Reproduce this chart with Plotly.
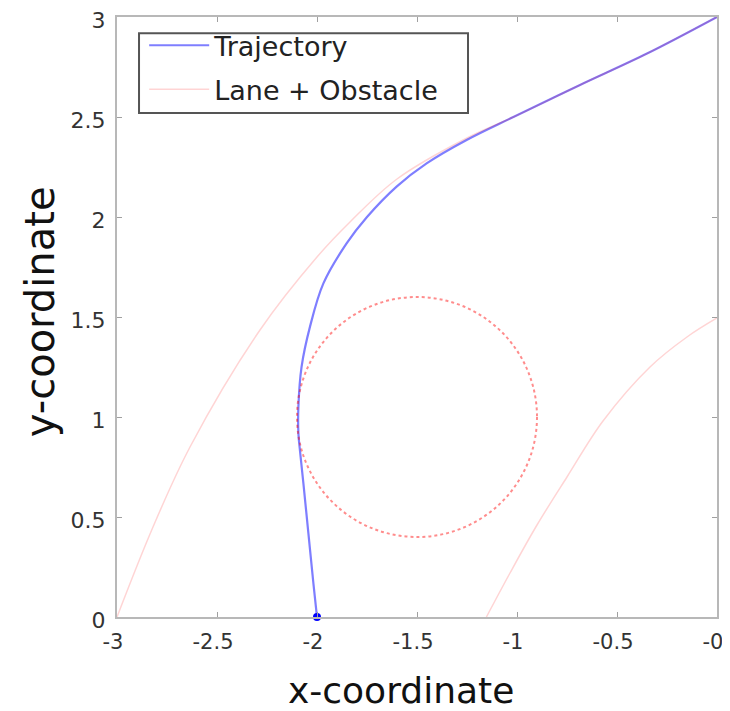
import plotly.graph_objects as go

# Trajectory (blue)
traj_x = [-2.0, -2.018, -2.043, -2.068, -2.085, -2.093, -2.093, -2.077, -2.035, -1.968,
          -1.852, -1.75, -1.602, -1.452, -1.252, -1.018, -0.685, -0.35, 0.0]
traj_y = [0.0, 0.168, 0.418, 0.668, 0.83, 0.918, 1.052, 1.252, 1.452, 1.668,
          1.868, 2.0, 2.152, 2.268, 2.385, 2.50, 2.66, 2.817, 3.0]

# Left lane boundary
lane_left_x = [-3.0, -2.82, -2.635, -2.285, -2.0, -1.835, -1.6, -1.25,
               -1.018, -0.685, -0.35, 0.0]
lane_left_y = [0.0, 0.45, 0.85, 1.435, 1.80, 1.975, 2.19, 2.395,
               2.50, 2.66, 2.817, 3.0]

# Right lane boundary
lane_right_x = [-1.153, -1.035, -0.9, -0.75, -0.57, -0.335, -0.15, 0.0]
lane_right_y = [0.0, 0.22, 0.46, 0.70, 0.98, 1.25, 1.40, 1.495]

# Obstacle
obstacle_center = (-1.5, 1.0)
obstacle_radius = 0.6

# Ticks
x_ticks = [-3, -2.5, -2, -1.5, -1, -0.5, 0]
x_tick_labels = ["-3", "-2.5", "-2", "-1.5", "-1", "-0.5", "-0"]
y_ticks = [0, 0.5, 1, 1.5, 2, 2.5, 3]
y_tick_labels = ["0", "0.5", "1", "1.5", "2", "2.5", "3"]

X_TITLE = "x-coordinate"
Y_TITLE = "y-coordinate"

FONT = "DejaVu Sans, Open Sans, sans-serif"
LANE_COLOR = "rgba(255,0,0,0.17)"

fig = go.Figure()

fig.add_trace(go.Scatter(
    x=traj_x, y=traj_y, mode="lines", name="Trajectory",
    line=dict(color="rgba(40,40,255,0.6)", width=2.2, shape="spline", smoothing=1.0),
))
fig.add_trace(go.Scatter(
    x=lane_left_x, y=lane_left_y, mode="lines", name="Lane + Obstacle",
    legendgroup="lane", line=dict(color=LANE_COLOR, width=1.5, shape="spline", smoothing=1.0),
))
fig.add_trace(go.Scatter(
    x=lane_right_x, y=lane_right_y, mode="lines", name="Lane + Obstacle",
    legendgroup="lane", showlegend=False,
    line=dict(color=LANE_COLOR, width=1.5, shape="spline", smoothing=1.0),
))
fig.add_trace(go.Scatter(
    x=[traj_x[0]], y=[traj_y[0]], mode="markers", showlegend=False,
    marker=dict(color="blue", size=8), cliponaxis=False,
))

cx, cy = obstacle_center
fig.add_shape(
    type="circle", xref="x", yref="y",
    x0=cx - obstacle_radius, x1=cx + obstacle_radius,
    y0=cy - obstacle_radius, y1=cy + obstacle_radius,
    line=dict(color="rgba(255,0,0,0.45)", width=2, dash="dot"),
)
# legend frame
fig.add_shape(
    type="rect", xref="paper", yref="paper", layer="above",
    x0=0.0367, x1=0.585, y0=0.84, y1=0.973,
    line=dict(color="#555555", width=2), fillcolor="white",
)

# axis titles
fig.add_annotation(
    text=X_TITLE, xref="paper", yref="paper", x=0.4733, y=-0.1217,
    xanchor="center", yanchor="middle", showarrow=False,
    font=dict(family=FONT, size=36, color="#111"),
)
fig.add_annotation(
    text=Y_TITLE, xref="paper", yref="paper", x=-0.1283, y=0.508,
    xanchor="center", yanchor="middle", showarrow=False, textangle=-90,
    font=dict(family=FONT, size=40, color="#111"),
)

axis_common = dict(
    showgrid=False, zeroline=False, showline=True, mirror="ticks",
    linecolor="#b8b8b8", linewidth=2, ticks="inside", ticklen=5,
    tickcolor="#a0a0a0", tickwidth=1, automargin=False,
    ticklabeloverflow="allow",
)

# page body has an 8px margin, so the figure is shifted 8px right/down
fig.update_layout(
    width=730, height=703,
    margin=dict(l=109, r=21, t=9, b=94),
    paper_bgcolor="white", plot_bgcolor="white",
    font=dict(family=FONT),
    xaxis=dict(range=[-3, 0], tickvals=x_ticks, ticktext=x_tick_labels,
               ticklabelstandoff=5, ticklabelshift=-4,
               tickfont=dict(family=FONT, size=21, color="#333333"),
               **axis_common),
    yaxis=dict(range=[0, 3], tickvals=y_ticks, ticktext=y_tick_labels,
               ticklabelstandoff=5, ticklabelshift=3,
               tickfont=dict(family=FONT, size=22, color="#333333"),
               **axis_common),
    legend=dict(
        x=0.0453, y=0.993, xanchor="left", yanchor="top",
        bgcolor="rgba(0,0,0,0)", borderwidth=0,
        font=dict(family=FONT, size=27, color="#222"),
        itemwidth=60, tracegroupgap=6,
    ),
    showlegend=True,
)

fig.write_html("out.html")
